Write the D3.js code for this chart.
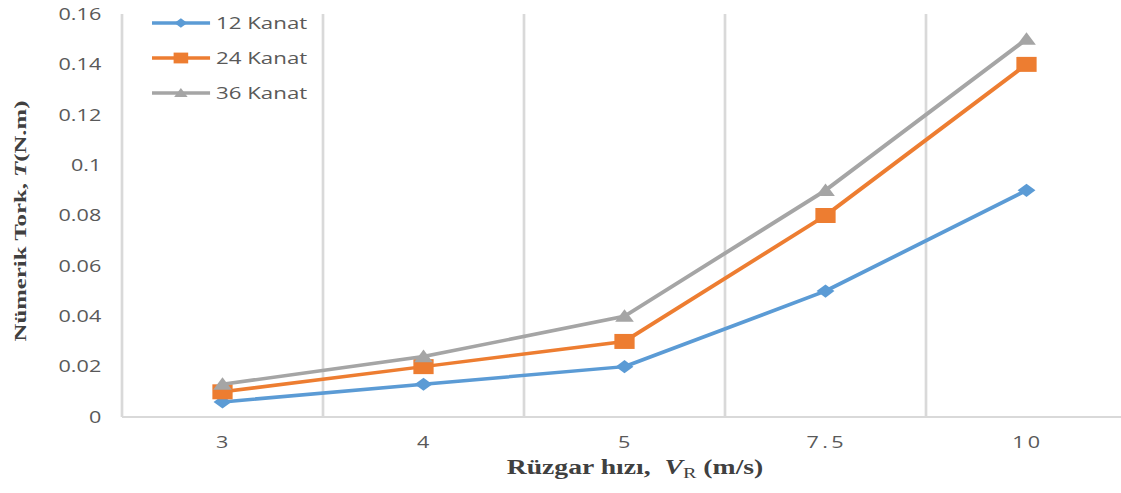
<!DOCTYPE html>
<html>
<head>
<meta charset="utf-8">
<script src="https://cdn.jsdelivr.net/npm/d3@7"></script>
<style>
  html, body { margin: 0; padding: 0; background: #fff; }
  svg { display: block; }
</style>
</head>
<body>
<div id="chart"></div>
<script>
// the source picture is stretched sideways, so draw in narrower units and stretch the svg
const stretchX = 1.35;
const width = 1121;
const height = 493;
const innerWidth = width / stretchX;

const speeds = ["3", "4", "5", "7.5", "10"];
const torque12 = [0.006, 0.013, 0.02, 0.05, 0.09];
const torque24 = [0.01, 0.02, 0.03, 0.08, 0.14];
const torque36 = [0.013, 0.024, 0.04, 0.09, 0.15];
const seriesNames = ["12 Kanat", "24 Kanat", "36 Kanat"];
const yTicks = [0, 0.02, 0.04, 0.06, 0.08, 0.1, 0.12, 0.14, 0.16];

const colors = ["#5B9BD5", "#ED7D31", "#A5A5A5"];

const series = [
  { name: seriesNames[0], values: torque12, color: colors[0], shape: "diamond" },
  { name: seriesNames[1], values: torque24, color: colors[1], shape: "square" },
  { name: seriesNames[2], values: torque36, color: colors[2], shape: "triangle" }
];

const plotLeft = 122 / stretchX;
const plotRight = 1127 / stretchX;
const plotTop = 14;
const plotBottom = 417;

const svg = d3.select('#chart')
  .append('svg')
  .attr('width', width)
  .attr('height', height)
  .attr('viewBox', `0 0 ${innerWidth} ${height}`)
  .attr('preserveAspectRatio', 'none')
  .style('overflow', 'hidden');

const x = d3.scaleBand()
  .domain(speeds)
  .range([plotLeft, plotRight]);

const y = d3.scaleLinear()
  .domain([0, 0.16])
  .range([plotBottom, plotTop]);

// marker shapes (Excel style: diamond is a turned square, triangle is squat)
const shapes = {
  diamond: {
    draw(ctx, r) {
      ctx.moveTo(0, -r); ctx.lineTo(r, 0); ctx.lineTo(0, r); ctx.lineTo(-r, 0); ctx.closePath();
    }
  },
  square: {
    draw(ctx, r) {
      ctx.rect(-r, -r, 2 * r, 2 * r);
    }
  },
  triangle: {
    draw(ctx, r) {
      ctx.moveTo(0, -r * 1.05); ctx.lineTo(r * 1.05, r * 0.85); ctx.lineTo(-r * 1.05, r * 0.85); ctx.closePath();
    }
  }
};
const markerRadius = { diamond: 6.6, square: 7.5, triangle: 6.6 };

const markerPath = (shape, scale) => d3.symbol().type(shapes[shape]).size(markerRadius[shape] * scale)();

// vertical gridlines on band edges
const edges = speeds.map(d => x(d)).concat([x.range()[1]]);
svg.append('g')
  .attr('class', 'grid')
  .selectAll('line')
  .data(edges)
  .enter().append('line')
  .attr('x1', d => d)
  .attr('x2', d => d)
  .attr('y1', plotTop)
  .attr('y2', plotBottom)
  .attr('stroke', '#D9D9D9')
  .attr('stroke-width', 2);

// x axis line
svg.append('line')
  .attr('x1', plotLeft)
  .attr('x2', innerWidth + 5)
  .attr('y1', plotBottom)
  .attr('y2', plotBottom)
  .attr('stroke', '#D9D9D9')
  .attr('stroke-width', 2);

// y tick labels
svg.append('g')
  .selectAll('text')
  .data(yTicks)
  .enter().append('text')
  .attr('x', 75)
  .attr('y', d => y(d))
  .attr('dy', '0.36em')
  .attr('text-anchor', 'end')
  .attr('font-family', 'Open Sans, sans-serif')
  .attr('font-size', 16)
  .attr('fill', '#595959')
  .text(d => d3.format('~g')(d));

// x tick labels
svg.append('g')
  .selectAll('text')
  .data(speeds)
  .enter().append('text')
  .attr('x', d => x(d) + x.bandwidth() / 2 + 1)
  .attr('y', 448)
  .attr('text-anchor', 'middle')
  .attr('font-family', 'Open Sans, sans-serif')
  .attr('font-size', 16)
  .attr('letter-spacing', 2.5)
  .attr('fill', '#595959')
  .text(d => d);

// lines
const line = d3.line()
  .x((d, i) => x(speeds[i]) + x.bandwidth() / 2)
  .y(d => y(d));

const seriesGroups = svg.append('g')
  .selectAll('g')
  .data(series)
  .enter().append('g');

seriesGroups.append('path')
  .attr('d', d => line(d.values))
  .attr('fill', 'none')
  .attr('stroke', d => d.color)
  .attr('stroke-width', 3.5)
  .attr('stroke-linejoin', 'round');

seriesGroups.each(function (s) {
  d3.select(this).selectAll('path.marker')
    .data(s.values)
    .enter().append('path')
    .attr('class', 'marker')
    .attr('transform', (d, i) => `translate(${x(speeds[i]) + x.bandwidth() / 2},${y(d)})`)
    .attr('d', () => markerPath(s.shape, 1))
    .attr('fill', s.color);
});

// legend
const legend = svg.append('g')
  .attr('id', 'legend')
  .selectAll('g')
  .data(series)
  .enter().append('g')
  .attr('transform', (d, i) => `translate(0, ${[23, 58, 93][i]})`);

legend.append('line')
  .attr('x1', 112.6)
  .attr('x2', 155.6)
  .attr('stroke', d => d.color)
  .attr('stroke-width', 3.5);

legend.append('path')
  .attr('transform', 'translate(134,0)')
  .attr('d', d => markerPath(d.shape, 0.72))
  .attr('fill', d => d.color);

legend.append('text')
  .attr('x', 160)
  .attr('dy', '0.36em')
  .attr('font-family', 'Open Sans, sans-serif')
  .attr('font-size', 16.5)
  .attr('fill', '#595959')
  .text(d => d.name);

// axis titles
const xTitle = svg.append('text')
  .attr('x', 635 / stretchX)
  .attr('y', 474)
  .attr('text-anchor', 'middle')
  .attr('font-family', 'Liberation Serif, Times New Roman, serif')
  .attr('font-weight', 'bold')
  .attr('font-size', 20.5)
  .attr('fill', '#404040')
  .style('white-space', 'pre');
xTitle.append('tspan').text('Rüzgar hızı,  ');
xTitle.append('tspan').attr('font-style', 'italic').text('V');
xTitle.append('tspan').attr('font-size', 15).attr('font-weight', 'normal').attr('dy', 4).text('R');
xTitle.append('tspan').attr('dy', -4).text(' (m/s)');

const yTitle = svg.append('text')
  .attr('transform', `translate(${21 / stretchX + 4}, 221) rotate(-90) scale(2.1, 1)`)
  .attr('text-anchor', 'middle')
  .attr('font-family', 'Liberation Serif, Times New Roman, serif')
  .attr('font-weight', 'bold')
  .attr('font-size', 11.8)
  .attr('fill', '#404040')
  .style('white-space', 'pre');
yTitle.append('tspan').text('Nümerik Tork, ');
yTitle.append('tspan').attr('font-style', 'italic').text('T');
yTitle.append('tspan').text('(N.m)');
</script>
</body>
</html>
